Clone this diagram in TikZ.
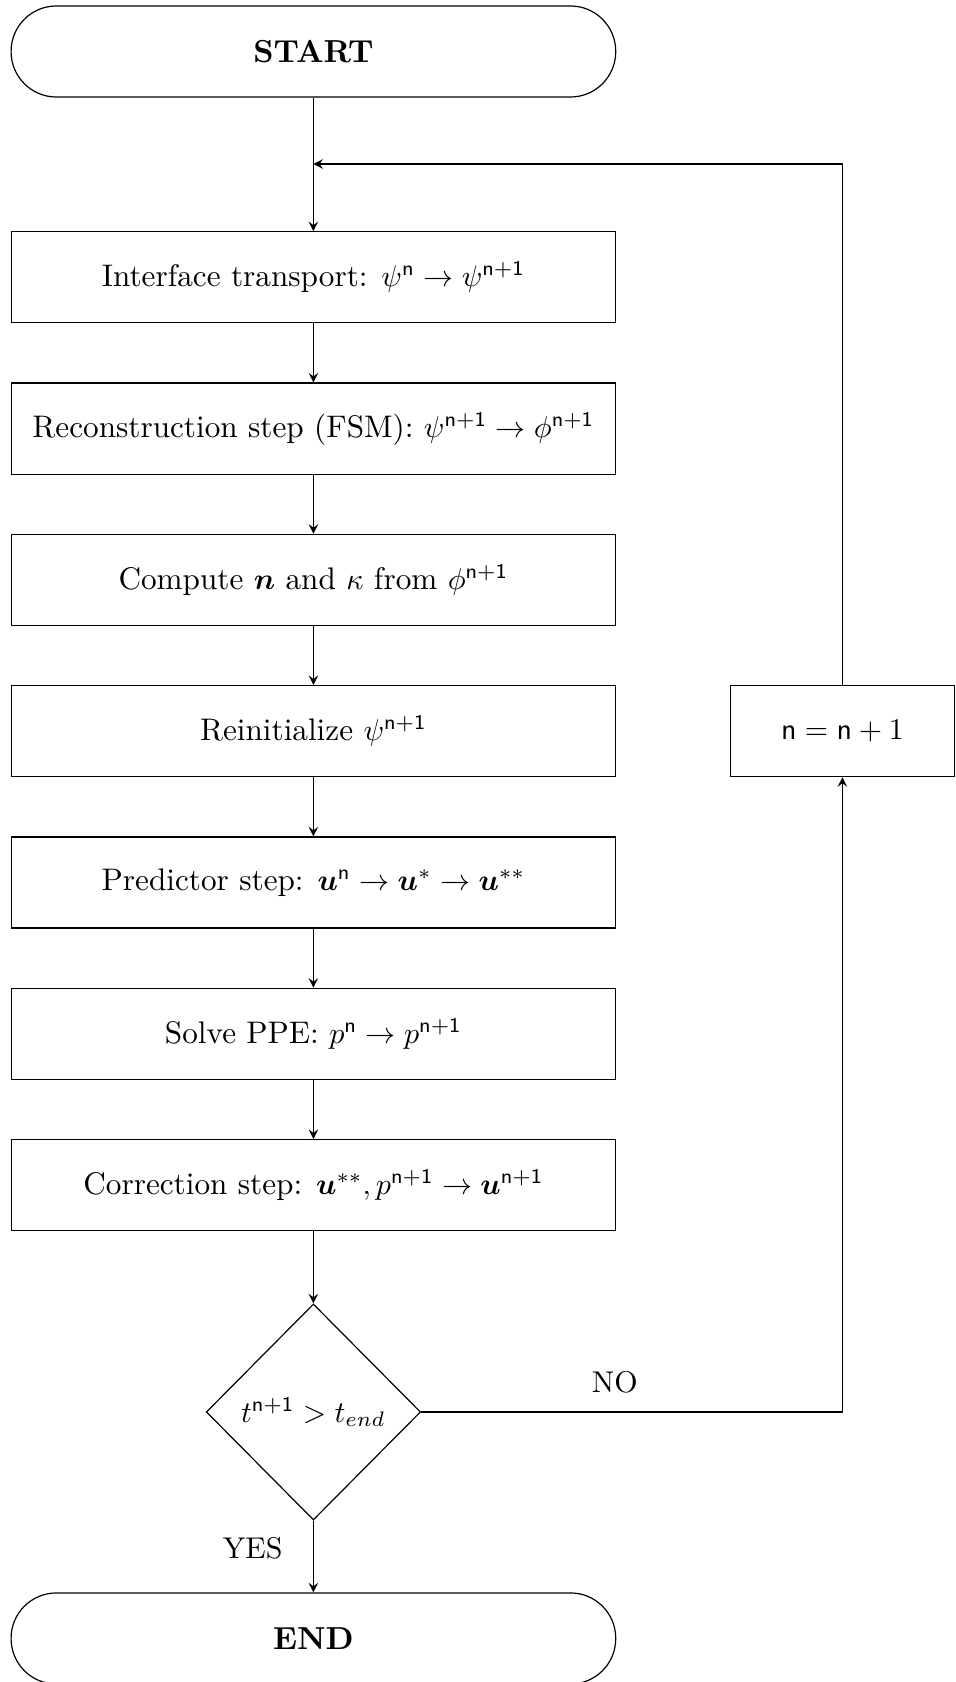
\documentclass[tikz,border=0pt]{standalone}
\usepackage{amsmath,bm}
\usetikzlibrary{shapes.geometric}
\begin{document}
\begin{tikzpicture}[
  termbox/.style={draw, rectangle, rounded corners=0.53cm, minimum width=7.08cm, minimum height=1.066cm, font=\fontsize{10.6}{12}\selectfont\bfseries},
  stepbox/.style={draw, rectangle, minimum width=7.08cm, minimum height=1.066cm, font=\fontsize{10.4}{12}\selectfont},
  decbox/.style={draw, diamond, aspect=1, inner sep=0pt, minimum width=2.51cm, minimum height=2.53cm},
  flow/.style={-stealth}
]
\useasboundingbox (0,0) rectangle (11.194,-19.696);

% start and end
\node[termbox] (start) at (3.67,-0.603) {START};
\node[termbox] (end) at (3.67,-19.186) {END};

% steps of one time level
\node[stepbox] (transport) at (3.67,-3.247) {Interface transport: $\psi^{\mathsf{n}} \rightarrow \psi^{\mathsf{n+1}}$};
\node[stepbox] (recon) at (3.67,-5.019) {Reconstruction step (FSM): $\psi^{\mathsf{n+1}} \rightarrow \phi^{\mathsf{n+1}}$};
\node[stepbox] (normal) at (3.67,-6.790) {Compute $\bm{n}$ and $\kappa$ from $\phi^{\mathsf{n+1}}$};
\node[stepbox] (reinit) at (3.67,-8.561) {Reinitialize $\psi^{\mathsf{n+1}}$};
\node[stepbox] (predict) at (3.67,-10.334) {Predictor step: $\bm{u}^{\mathsf{n}} \rightarrow \bm{u}^{*} \rightarrow \bm{u}^{**}$};
\node[stepbox] (ppe) at (3.67,-12.105) {Solve PPE: $p^{\mathsf{n}} \rightarrow p^{\mathsf{n+1}}$};
\node[stepbox] (correct) at (3.67,-13.877) {Correction step: $\bm{u}^{**}, p^{\mathsf{n+1}} \rightarrow \bm{u}^{\mathsf{n+1}}$};

% test and counter
\node[decbox] (test) at (3.67,-16.534) {$t^{\mathsf{n+1}} > t_{end}$};
\node[draw, rectangle, minimum width=2.63cm, minimum height=1.066cm] (count) at (9.865,-8.561) {$\mathsf{n} = \mathsf{n} + 1$};

% labels
\node (no) at (7.20,-16.19) {NO};
\node (yes) at (2.96,-18.13) {YES};

% main line
\draw[flow] (start) -- (transport);
\draw[flow] (transport) -- (recon);
\draw[flow] (recon) -- (normal);
\draw[flow] (normal) -- (reinit);
\draw[flow] (reinit) -- (predict);
\draw[flow] (predict) -- (ppe);
\draw[flow] (ppe) -- (correct);
\draw[flow] (correct) -- (test);
\draw[flow] (test) -- (end);

% loop back
\coordinate (join) at (3.67,-1.92);
\draw[flow] (test.east) -| (count.south);
\draw[flow] (count.north) |- (join);

\end{tikzpicture}
\end{document}
